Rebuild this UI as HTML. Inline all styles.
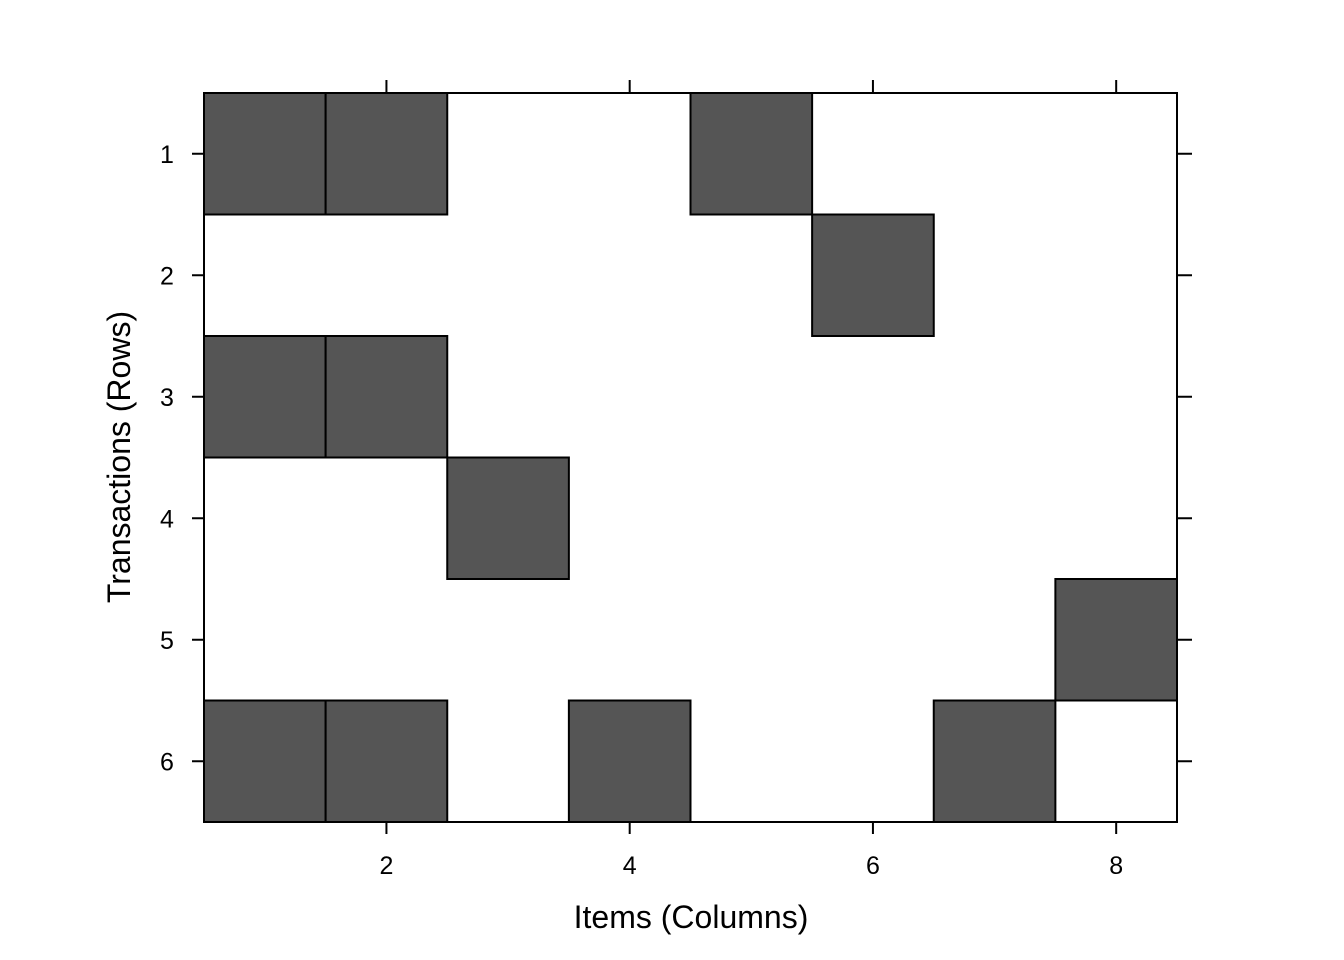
<!DOCTYPE html>
<html><head><meta charset="utf-8"><style>
body{margin:0;background:#fff;}
svg{display:block;font-family:"Liberation Sans",Arial,sans-serif;}
</style></head><body>
<svg id="chart" width="1344" height="960">
<rect x="0" y="0" width="1344" height="960" fill="#fff"/>
<g id="cells"></g>
<rect x="204" y="93" width="973" height="729" fill="none" stroke="#000" stroke-width="2"/>
<g id="axes"></g>
<text x="691" y="928" text-anchor="middle" font-size="32">Items (Columns)</text>
<text transform="translate(130,457) rotate(-90)" text-anchor="middle" font-size="32">Transactions (Rows)</text>
</svg>
<script>
const nCols = 8;
const nRows = 6;
const cellRows = [1,1,1,2,3,3,4,5,6,6,6,6];
const cellCols = [1,2,5,6,1,2,3,8,1,2,4,7];
const xTicks = [2,4,6,8];
const yTicks = [1,2,3,4,5,6];
const NS="http://www.w3.org/2000/svg";
const L=204,R=1177,T=93,B=822;
const cw=(R-L)/nCols, rh=(B-T)/nRows;
const xs=c=>L+(c-0.5)*cw;
const ys=r=>T+(r-0.5)*rh;
const cells=document.getElementById('cells');
for(let i=0;i<cellRows.length;i++){
  const r=document.createElementNS(NS,'rect');
  r.setAttribute('x',xs(cellCols[i])-cw/2);
  r.setAttribute('y',ys(cellRows[i])-rh/2);
  r.setAttribute('width',cw);r.setAttribute('height',rh);
  r.setAttribute('fill','#555555');r.setAttribute('stroke','#000');r.setAttribute('stroke-width','2');
  
  
  cells.appendChild(r);
}
const axes=document.getElementById('axes');
function line(x1,y1,x2,y2,name){
  const l=document.createElementNS(NS,'line');
  l.setAttribute('x1',x1);l.setAttribute('y1',y1);l.setAttribute('x2',x2);l.setAttribute('y2',y2);
  l.setAttribute('stroke','#000');l.setAttribute('stroke-width','2');
  
  
  axes.appendChild(l);
}
function text(x,y,s,name){
  const t=document.createElementNS(NS,'text');
  t.setAttribute('x',x);t.setAttribute('y',y);t.setAttribute('text-anchor','middle');t.setAttribute('font-size','25');
  t.textContent=s;
  
  
  axes.appendChild(t);
}
xTicks.forEach(v=>{
  line(xs(v),B,xs(v),B+12,'x-tick-bottom');
  line(xs(v),T,xs(v),T-13,'x-tick-top');
  text(xs(v),874,String(v),'x-tick-label');
});
yTicks.forEach(v=>{
  line(L,ys(v),L-12,ys(v),'y-tick-left');
  line(R,ys(v),R+15,ys(v),'y-tick-right');
  text(167,ys(v)+9,String(v),'y-tick-label');
});
</script>
</body></html>
